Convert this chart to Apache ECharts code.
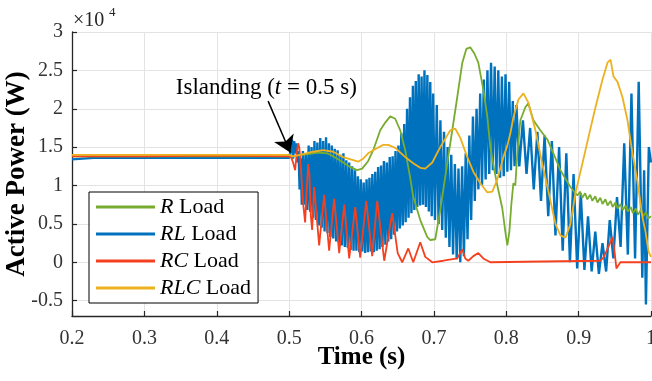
<!DOCTYPE html>
<html>
<head>
<meta charset="utf-8">
<script src="https://cdn.jsdelivr.net/npm/echarts@6.0.0/dist/echarts.min.js"></script>
<style>
  html, body { margin: 0; padding: 0; background: #fff; }
  #chart { width: 652px; height: 381px; }
</style>
</head>
<body>
<div id="chart"></div>
<script>
// Active power of the DG unit before and after islanding, in units of 1e4 W.
// Each series: [time (s), power (x1e4 W)].

const seriesNames = ['R Load', 'RL Load', 'RC Load', 'RLC Load'];

const xTicks = [0.2, 0.3, 0.4, 0.5, 0.6, 0.7, 0.8, 0.9, 1.0];
const yTicks = [-0.5, 0, 0.5, 1, 1.5, 2, 2.5, 3];

const rLoad = [
  [0.2,1.38],[0.5,1.38],[0.51,1.39],[0.525,1.41],[0.54,1.43],[0.553,1.42],[0.5609,1.38],
  [0.5747,1.3],[0.5844,1.24],[0.594,1.2],[0.601,1.22],[0.6093,1.32],[0.6162,1.46],[0.6259,1.72],
  [0.6328,1.82],[0.6397,1.9],[0.6466,1.87],[0.6535,1.72],[0.6604,1.46],[0.6673,1.1],[0.6715,0.85],
  [0.6812,0.55],[0.6908,0.33],[0.695,0.29],[0.7019,0.3],[0.7088,0.68],[0.7185,1.29],[0.7254,1.72],
  [0.7323,2.15],[0.7393,2.6],[0.7448,2.78],[0.7503,2.8],[0.7559,2.72],[0.7614,2.6],[0.7683,2.25],
  [0.7738,1.9],[0.778,1.5],[0.7835,1.2],[0.7877,1.0],[0.7946,0.7],[0.7987,0.4],[0.8015,0.22],
  [0.8043,0.4],[0.807,0.75],[0.8098,1.03],[0.8125,1.0],[0.8153,1.42],[0.8195,1.85],[0.8264,2.02],
  [0.8305,2.07],[0.8375,1.85],[0.8471,1.72],[0.8568,1.6],[0.8651,1.42],[0.8748,1.2],[0.8886,0.98],
  [0.8983,0.87],[0.902,0.92],[0.905,0.84],[0.909,0.9],[0.912,0.82],[0.916,0.88],[0.919,0.8],
  [0.923,0.86],[0.926,0.78],[0.930,0.84],[0.933,0.76],[0.937,0.82],[0.940,0.74],[0.944,0.8],
  [0.947,0.72],[0.951,0.78],[0.954,0.7],[0.958,0.76],[0.961,0.68],[0.965,0.74],[0.968,0.66],
  [0.972,0.72],[0.975,0.64],[0.979,0.7],[0.982,0.62],[0.986,0.68],[0.989,0.6],[0.993,0.65],
  [0.996,0.57],[1.0,0.6]
];

const rlLoad = [
  [0.200,1.34],[0.230,1.36],[0.500,1.36],[0.502,1.45],[0.504,1.6],[0.5055,1.35],[0.507,1.58],
  [0.5085,1.42],[0.510,1.55],[0.5115,1.3],[0.513,1.45],[0.5145,0.95],[0.516,1.35],[0.5175,0.75],
  [0.519,1.45],[0.521,0.75],[0.523,1.42],[0.525,0.68],[0.527,1.52],[0.529,0.66],[0.531,1.5],
  [0.533,0.58],[0.535,1.58],[0.537,0.55],[0.539,1.56],[0.541,0.48],[0.543,1.62],[0.545,0.45],
  [0.547,1.58],[0.549,0.4],[0.551,1.63],[0.553,0.38],[0.555,1.55],[0.557,0.33],[0.559,1.52],
  [0.561,0.31],[0.563,1.48],[0.565,0.27],[0.567,1.46],[0.569,0.25],[0.571,1.4],[0.573,0.22],
  [0.575,1.42],[0.577,0.2],[0.579,1.33],[0.581,0.19],[0.583,1.3],[0.585,0.16],[0.587,1.25],
  [0.589,0.15],[0.591,1.2],[0.593,0.15],[0.595,1.12],[0.597,0.13],[0.599,1.08],[0.601,0.14],
  [0.603,1.04],[0.605,0.12],[0.607,1.08],[0.609,0.13],[0.611,1.1],[0.613,0.14],[0.615,1.15],
  [0.617,0.13],[0.619,1.18],[0.621,0.15],[0.623,1.24],[0.625,0.17],[0.627,1.26],[0.629,0.2],
  [0.631,1.32],[0.633,0.23],[0.635,1.3],[0.637,0.27],[0.639,1.37],[0.641,0.3],[0.643,1.38],
  [0.645,0.36],[0.647,1.45],[0.649,0.4],[0.651,1.52],[0.653,0.44],[0.655,1.68],[0.657,0.48],
  [0.659,1.8],[0.661,0.52],[0.663,2.0],[0.665,0.58],[0.667,2.15],[0.669,0.64],[0.671,2.3],
  [0.673,0.68],[0.675,2.36],[0.677,0.72],[0.679,2.45],[0.681,0.74],[0.683,2.42],[0.685,0.75],
  [0.687,2.5],[0.689,0.72],[0.691,2.44],[0.693,0.66],[0.695,2.35],[0.697,0.6],[0.699,2.2],
  [0.7015,0.55],[0.704,2.05],[0.7065,0.5],[0.709,1.85],[0.7115,0.42],[0.714,1.7],[0.7165,0.32],
  [0.719,1.5],[0.7215,0.2],[0.724,1.4],[0.7265,0.1],[0.729,1.28],[0.7315,0.04],[0.734,1.22],
  [0.7365,0.0],[0.739,1.25],[0.7415,0.08],[0.744,1.42],[0.7465,0.3],[0.749,1.65],[0.7515,0.55],
  [0.754,1.9],[0.7565,0.8],[0.759,2.0],[0.7615,0.95],[0.764,2.2],[0.7665,1.0],[0.769,2.38],
  [0.7715,1.08],[0.774,2.5],[0.7765,1.15],[0.779,2.6],[0.7815,1.2],[0.784,2.55],[0.7865,1.15],
  [0.789,2.5],[0.7915,1.1],[0.794,2.42],[0.7965,1.12],[0.799,2.45],[0.8015,1.18],[0.804,2.35],
  [0.8065,1.2],[0.809,2.1],[0.8115,1.25],
  [0.814,2.05],[0.818,1.25],[0.823,1.85],[0.828,1.15],[0.833,1.75],[0.838,0.95],[0.843,1.7],
  [0.848,0.8],[0.853,1.65],[0.858,0.6],[0.863,1.58],[0.868,0.35],[0.873,1.5],[0.878,0.15],
  [0.883,1.42],[0.888,0.0],[0.893,1.15],[0.898,-0.08],[0.903,0.9],[0.908,-0.1],[0.913,0.6],
  [0.918,-0.12],[0.923,0.4],[0.928,-0.15],[0.933,0.25],[0.938,-0.12],[0.943,0.55],[0.948,0.05],
  [0.953,0.85],[0.958,0.2],[0.963,1.55],[0.968,0.1],[0.973,2.2],[0.978,0.05],[0.983,2.35],
  [0.988,-0.2],[0.9905,1.2],[0.993,-0.55],[0.997,1.5],[1.0,1.3]
];

const rcLoad = [
  [0.2,1.38],[0.3,1.38],[0.4,1.39],[0.5,1.38],[0.503,1.36],[0.5055,1.3],[0.5083,1.2],[0.5105,1.42],
  [0.5124,1.55],[0.514,1.5],[0.5165,1.2],[0.519,0.8],[0.5221,0.52],[0.524,0.9],[0.5263,1.28],
  [0.528,1.15],[0.530,0.6],[0.5318,0.42],[0.5346,0.98],[0.5415,0.22],[0.5484,0.88],[0.5553,0.15],
  [0.5622,0.83],[0.5692,0.12],[0.5761,0.75],[0.583,0.05],[0.5913,0.72],[0.5982,0.06],[0.6065,0.8],
  [0.6148,0.08],[0.6217,0.8],[0.6314,0.02],[0.6424,0.64],[0.650,0.12],[0.6563,0.0],[0.6646,0.18],
  [0.6715,0.0],[0.6812,0.26],[0.6881,0.07],[0.6978,0.0],[0.713,0.02],[0.7323,0.05],[0.7393,0.17],
  [0.7434,0.05],[0.7476,0.02],[0.7545,0.08],[0.7614,0.12],[0.7683,0.05],[0.778,0.0],[0.85,0.01],
  [0.93,0.02],[0.9342,0.06],[0.9412,0.2],[0.9467,0.33],[0.9495,0.15],[0.9522,-0.08],[0.9577,0.0],
  [1.0,0.0]
];

const rlcLoad = [
  [0.2,1.4],[0.5,1.4],[0.505,1.38],[0.5152,1.4],[0.5332,1.44],[0.547,1.46],[0.5608,1.44],
  [0.5747,1.37],[0.5885,1.33],[0.5954,1.31],[0.6023,1.35],[0.6092,1.42],[0.6162,1.46],[0.63,1.53],
  [0.6369,1.53],[0.6466,1.49],[0.6605,1.37],[0.6715,1.29],[0.6812,1.23],[0.6881,1.22],[0.6978,1.3],
  [0.7088,1.5],[0.7227,1.72],[0.7296,1.74],[0.7365,1.62],[0.7462,1.37],[0.7545,1.18],[0.7642,1.03],
  [0.7739,0.91],[0.7808,0.92],[0.7877,1.08],[0.796,1.37],[0.8015,1.52],[0.8057,1.68],[0.8099,1.89],
  [0.8168,2.12],[0.8237,2.2],[0.8306,2.08],[0.8403,1.72],[0.85,1.27],[0.8583,0.92],[0.868,0.5],
  [0.8749,0.35],[0.8818,0.32],[0.8887,0.5],[0.8956,0.9],[0.8998,1.07],[0.9053,1.29],[0.9136,1.63],
  [0.9233,2.02],[0.933,2.38],[0.9399,2.6],[0.9441,2.64],[0.9482,2.42],[0.9537,2.35],[0.9606,2.15],
  [0.9675,1.85],[0.9744,1.42],[0.9813,1.05],[0.9883,0.58],[0.9924,0.4],[0.9966,0.14],[1.0,0.07]
];

// Islanding annotation: arrow from the label down to the switching instant.
const islandingArrow = [[0.471, 2.1], [0.5015, 1.43]];
const islandingLabelAt = [0.4685, 2.27];

const FONT = "'Liberation Serif', 'Times New Roman', serif";
const INK = '#262626';
const colors = { r: '#77AC30', rl: '#0072BD', rc: '#F5401F', rlc: '#EDB120' };

const chart = echarts.init(document.getElementById('chart'), null, { renderer: 'canvas' });

function fmt(v) { return String(Math.round(v * 10) / 10); }

chart.setOption({
  animation: false,
  backgroundColor: '#fff',
  grid: { left: 72, right: 1, top: 32, bottom: 65, containLabel: false, outerBoundsMode: 'none' },
  xAxis: {
    type: 'value', min: 0.2, max: 1.0, interval: 0.1,
    name: 'Time (s)', nameLocation: 'middle', nameGap: 29, nameMoveOverlap: false,
    nameTextStyle: { fontFamily: FONT, fontSize: 25, fontWeight: 'bold', color: '#000' },
    axisLine: { show: true, onZero: false, lineStyle: { color: INK, width: 1.3 } },
    axisTick: { show: true, inside: true, length: 5, lineStyle: { color: INK, width: 1.2 } },
    axisLabel: { fontFamily: FONT, fontSize: 20, color: '#333', margin: 13, formatter: fmt, showMaxLabel: true },
    splitLine: { show: true, lineStyle: { color: '#e3e3e3', width: 1 } }
  },
  yAxis: {
    type: 'value', min: -0.7, max: 3,
    name: 'Active Power (W)', nameLocation: 'middle', nameGap: 41, nameMoveOverlap: false,
    nameTextStyle: { fontFamily: FONT, fontSize: 27, fontWeight: 'bold', color: '#000' },
    axisLine: { show: true, onZero: false, lineStyle: { color: INK, width: 1.3 } },
    axisTick: { show: true, inside: true, length: 5, customValues: yTicks, lineStyle: { color: INK, width: 1.2 } },
    axisLabel: { fontFamily: FONT, fontSize: 20, color: '#333', margin: 9, customValues: yTicks, formatter: v => String(v) },
    splitLine: { show: true, lineStyle: { color: '#e3e3e3', width: 1 } }
  },
  legend: {
    data: seriesNames,
    orient: 'vertical', left: 89, top: 192,
    backgroundColor: '#fff', borderColor: '#000', borderWidth: 1,
    padding: [4, 7, 4, 7], itemGap: 5, itemWidth: 59, itemHeight: 3,
    icon: 'rect',
    formatter: name => { const p = name.split(' '); return '{i|' + p[0] + '} {n|' + p[1] + '}'; },
    textStyle: {
      fontFamily: FONT, fontSize: 22, color: '#000',
      rich: {
        i: { fontFamily: FONT, fontSize: 22, fontStyle: 'italic', color: '#000' },
        n: { fontFamily: FONT, fontSize: 22, color: '#000' }
      }
    }
  },
  graphic: [
    { type: 'text', left: 73, top: 11, style: { text: '\u00d710', font: '20px ' + FONT, fill: INK } },
    { type: 'text', left: 109, top: 6, style: { text: '4', font: '13px ' + FONT, fill: INK } }
  ],
  series: [
    { name: 'RL Load', type: 'line', data: rlLoad, showSymbol: false, z: 2,
      lineStyle: { color: colors.rl, width: 2.4 }, itemStyle: { color: colors.rl } },
    { name: 'R Load', type: 'line', data: rLoad, showSymbol: false, z: 3,
      lineStyle: { color: colors.r, width: 1.8 }, itemStyle: { color: colors.r } },
    { name: 'RC Load', type: 'line', data: rcLoad, showSymbol: false, z: 4,
      lineStyle: { color: colors.rc, width: 1.8 }, itemStyle: { color: colors.rc } },
    { name: 'RLC Load', type: 'line', data: rlcLoad, showSymbol: false, z: 5,
      lineStyle: { color: colors.rlc, width: 1.8 }, itemStyle: { color: colors.rlc },
      markLine: {
        silent: true, symbol: ['none', 'arrow'], symbolSize: 16, label: { show: false },
        lineStyle: { color: '#000', width: 1.5, type: 'solid' },
        data: [[{ coord: islandingArrow[0] }, { coord: islandingArrow[1] }]]
      },
      markPoint: {
        silent: true, symbol: 'rect', symbolSize: 0,
        data: [{ coord: islandingLabelAt }],
        label: {
          show: true, position: 'inside', color: '#000',
          formatter: '{n|Islanding (}{i|t}{n| = 0.5 s)}',
          rich: {
            n: { fontFamily: FONT, fontSize: 23, color: '#000' },
            i: { fontFamily: FONT, fontSize: 23, fontStyle: 'italic', color: '#000' }
          }
        }
      }
    }
  ]
});
</script>
</body>
</html>
